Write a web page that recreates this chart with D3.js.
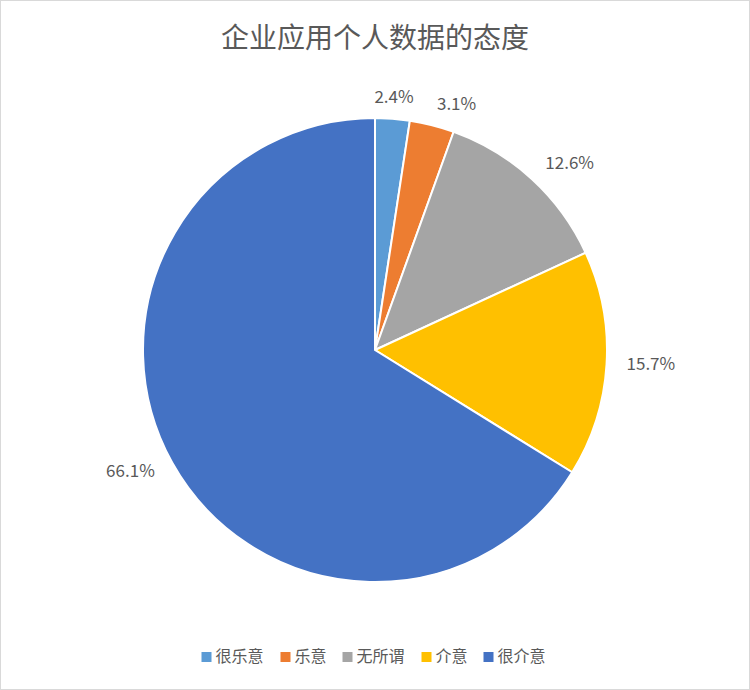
<!DOCTYPE html>
<html><head><meta charset="utf-8">
<script src="https://cdn.jsdelivr.net/npm/d3@7"></script>
<style>body{margin:0;background:#fff}</style>
</head><body>
<script>
var categories=["很乐意","乐意","无所谓","介意","很介意"]
var values=[2.4,3.1,12.6,15.7,66.1]
var colors=["#5B9BD5","#ED7D31","#A5A5A5","#FFC000","#4472C4"]
var W=750,H=690,cx=375,cy=350,R=232
var font="'Microsoft YaHei','Noto Sans CJK SC',sans-serif"

var svg=d3.select("body").append("svg").attr("width",W).attr("height",H)
svg.append("rect").attr("x",0.5).attr("y",0.5).attr("width",W-1).attr("height",H-1)
	.attr("fill","#fff").attr("stroke","#d9d9d9")
svg.append("text").text("企业应用个人数据的态度").attr("x",W/2).attr("y",48)
	.attr("text-anchor","middle").attr("font-size","28px").attr("fill","#595959").attr("font-family",font)

var pie=d3.pie().sort(null).value(function(d){return d})
var arcs=pie(values)
var arc=d3.arc().innerRadius(0).outerRadius(R)
var lab=d3.arc().innerRadius(252).outerRadius(252)
var g=svg.append("g").attr("transform","translate("+cx+","+cy+")")
g.selectAll("path").data(arcs).enter().append("path").attr("d",arc)
	.attr("fill",function(d,i){return colors[i]}).attr("stroke","#fff").attr("stroke-width",2)
g.selectAll("text").data(arcs).enter().append("text")
	.text(function(d){return d.data.toFixed(1)+"%"})
	.attr("x",function(d){return lab.centroid(d)[0]})
	.attr("y",function(d){return lab.centroid(d)[1]})
	.attr("dominant-baseline","middle")
	.attr("text-anchor",function(d){var a=(d.startAngle+d.endAngle)/2;return a<0.15?"middle":(a<Math.PI?"start":"end")})
	.attr("font-size","17px").attr("fill","#595959").attr("font-family",font)

// legend
var lg=svg.append("g")
var x=0,items=[]
categories.forEach(function(c,i){items.push({c:c,i:i,x:x});x+=14+c.length*17+14})
var lx=(W-x+14)/2
items.forEach(function(it){
	var gg=lg.append("g").attr("transform","translate("+(lx+it.x)+",657)")
	gg.append("rect").attr("x",0).attr("y",-5).attr("width",10).attr("height",10).attr("fill",colors[it.i])
	gg.append("text").text(it.c).attr("x",14).attr("y",1).attr("dominant-baseline","middle")
		.attr("font-size","16px").attr("fill","#595959").attr("font-family",font)
})
</script>
</body></html>
